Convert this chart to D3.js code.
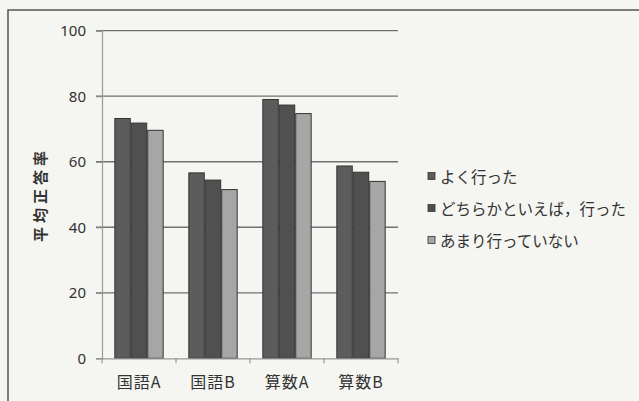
<!DOCTYPE html>
<html><head><meta charset="utf-8">
<script src="https://cdn.jsdelivr.net/npm/d3@7"></script>
<style>
html,body{margin:0;padding:0;background:#f5f5f2;}
svg{display:block;}
text{font-family:"Noto Sans CJK JP","Noto Sans",sans-serif;fill:#333;}
</style></head>
<body><svg id="c" width="639" height="401"></svg>
<script>
const categories = ["国語A", "国語B", "算数A", "算数B"];
const seriesNames = ["よく行った", "どちらかといえば，行った", "あまり行っていない"];
const seriesValues = [
  [73.2, 56.6, 79.0, 58.7],
  [71.8, 54.4, 77.3, 56.8],
  [69.6, 51.5, 74.7, 54.0]
];
const yTicks = [0, 20, 40, 60, 80, 100];
const seriesColors = ["#5c5c5c", "#505050", "#a6a6a6"];

(function () {
const svg = d3.select("#c");
const W = 639, H = 401;
svg.append("rect").attr("width", W).attr("height", H).attr("fill", "#f5f5f2");
// outer frame
svg.append("rect").attr("x", 8).attr("y", 10).attr("width", 660).attr("height", 420)
  .attr("fill", "none").attr("stroke", "#555").attr("stroke-width", 1.5);

const pL = 102, pR = 398, pT = 30.7, pB = 358.3;
const x = d3.scaleBand().domain(categories).range([pL, pR]).paddingInner(0).paddingOuter(0);
const y = d3.scaleLinear().domain([0, 100]).range([pB, pT]);
const groupW = x.bandwidth() * 3 / 4.5;
const xs = d3.scaleBand().domain(d3.range(seriesNames.length)).range([0, groupW]);
const offset = (x.bandwidth() - groupW) / 2;

// gridlines
svg.append("g").selectAll("line").data(yTicks.filter(d => d > 0)).join("line")
  .attr("x1", pL - 6).attr("x2", pR)
  .attr("y1", d => y(d)).attr("y2", d => y(d))
  .attr("stroke", "#707070").attr("stroke-width", 1.3);

// y axis
const yAxis = svg.append("g").attr("transform", `translate(${pL},0)`)
  .call(d3.axisLeft(y).tickValues(yTicks).tickSize(6).tickPadding(10));
yAxis.select(".domain").attr("stroke", "#999").attr("stroke-width", 1.2);
yAxis.selectAll(".tick line").attr("stroke", "#888");
yAxis.selectAll("text").attr("font-size", 15).attr("fill", "#333")
  .style("font-family", "'Noto Sans','DejaVu Sans',sans-serif");

// bars
const g = svg.append("g");
seriesValues.forEach((vals, si) => {
  g.selectAll(null).data(vals.map((v, i) => ({ c: categories[i], v }))).join("rect")
    .attr("x", d => x(d.c) + offset + xs(si) + 0.5)
    .attr("width", xs.bandwidth() - 1)
    .attr("y", d => y(d.v))
    .attr("height", d => pB - y(d.v))
    .attr("fill", seriesColors[si])
    .attr("stroke", "#333").attr("stroke-width", 1);
});

// x axis
const xAxis = svg.append("g").attr("transform", `translate(0,${pB})`)
  .call(d3.axisBottom(x).tickSize(0).tickPadding(18));
xAxis.select(".domain").attr("stroke", "#999").attr("stroke-width", 1.2);
xAxis.selectAll("text").attr("font-size", 16).attr("fill", "#333").attr("letter-spacing", "1px");
svg.append("g").selectAll("line").data(d3.range(categories.length + 1)).join("line")
  .attr("x1", i => pL + i * x.step()).attr("x2", i => pL + i * x.step())
  .attr("y1", pB).attr("y2", pB + 5)
  .attr("stroke", "#888");

// y title
svg.append("text").attr("transform", `translate(46,${(pT + pB) / 2}) rotate(-90)`)
  .attr("text-anchor", "middle").attr("font-size", 15).attr("font-weight", "bold")
  .attr("letter-spacing", "4px").text("平均正答率");

// legend
const lg = svg.append("g");
const ly = [176, 208, 240];
seriesNames.forEach((n, i) => {
  lg.append("rect").attr("x", 428).attr("y", ly[i] - 3.5).attr("width", 7).attr("height", 7)
    .attr("fill", seriesColors[i]).attr("stroke", "#333").attr("stroke-width", 0.8);
  lg.append("text").attr("x", 440).attr("y", ly[i]).attr("dominant-baseline", "central")
    .attr("font-size", 15.5).attr("fill", "#333").text(n);
});
})();
</script></body></html>
